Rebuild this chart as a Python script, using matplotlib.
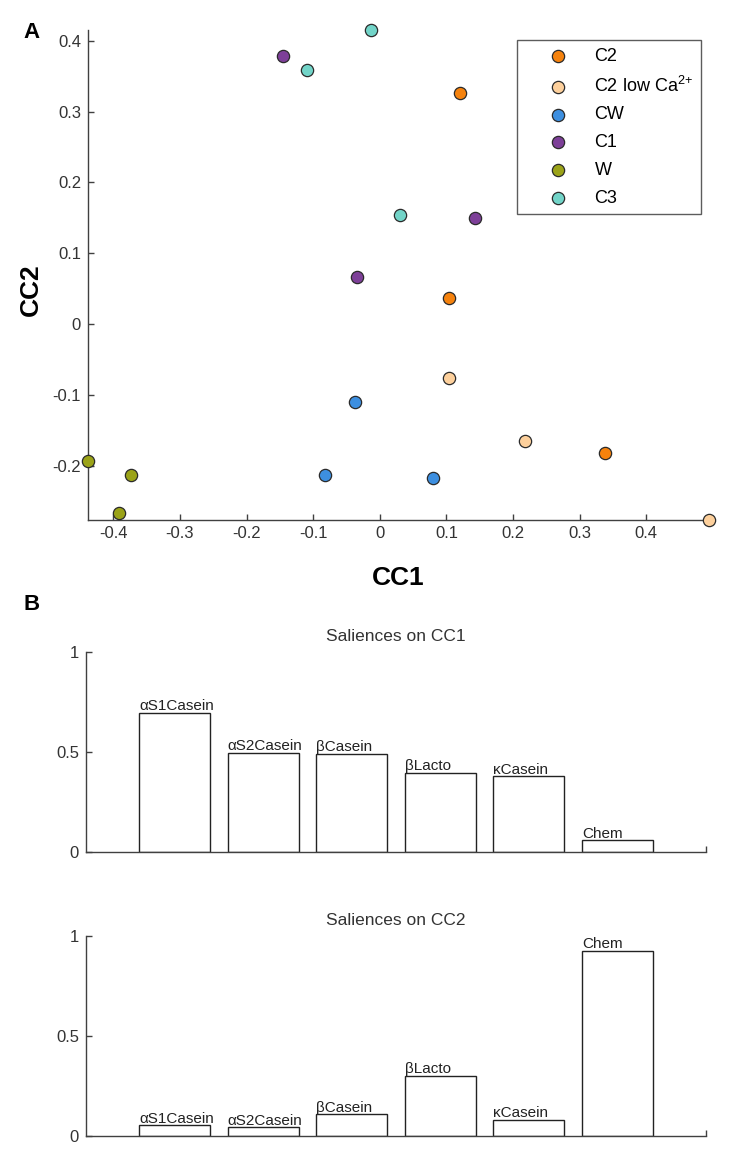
import numpy as np
import matplotlib
matplotlib.use('Agg')
import matplotlib.pyplot as plt
from matplotlib.ticker import FormatStrFormatter

plt.rcParams['font.family'] = ['Liberation Sans', 'DejaVu Sans']
plt.rcParams['mathtext.default'] = 'regular'

# CCA scores per group (three samples each)
groups = ['C2', 'C2 low Ca$^{2{+}}$', 'CW', 'C1', 'W', 'C3']
colors = ['#f5820d', '#fdd09c', '#3d8fe0', '#7d3f98', '#9ba318', '#72d4c8']
cc1 = [[0.121, 0.104, 0.338],
       [0.104, 0.2175, 0.494],
       [-0.037, -0.083, 0.0805],
       [-0.145, 0.143, -0.034],
       [-0.438, -0.374, -0.392],
       [-0.014, -0.109, 0.030]]
cc2 = [[0.326, 0.037, -0.181],
       [-0.076, -0.165, -0.276],
       [-0.110, -0.213, -0.217],
       [0.378, 0.150, 0.066],
       [-0.193, -0.213, -0.266],
       [0.415, 0.359, 0.154]]
xticks = [-0.4, -0.3, -0.2, -0.1, 0, 0.1, 0.2, 0.3, 0.4]
yticks = [-0.2, -0.1, 0, 0.1, 0.2, 0.3, 0.4]

# saliences of the variables
variables = ['αS1Casein', 'αS2Casein', 'βCasein', 'βLacto', 'κCasein', 'Chem']
sal_cc1 = [0.697, 0.497, 0.493, 0.398, 0.380, 0.062]
sal_cc2 = [0.055, 0.045, 0.108, 0.302, 0.081, 0.927]

axcol = '#404040'
W, H = 735, 1155
fig = plt.figure(figsize=(W / 100, H / 100), dpi=100)


def style(ax):
    for s in ['top', 'right']:
        ax.spines[s].set_visible(False)
    for s in ['left', 'bottom']:
        ax.spines[s].set_color(axcol)
        ax.spines[s].set_linewidth(1.0)
    ax.tick_params(direction='in', length=4.5, width=1.0, color=axcol,
                   labelcolor='#333333', labelsize=12)


# --- panel A: scatter
ax = fig.add_axes([88 / W, 1 - 520 / H, 621 / W, 490 / H])
for g, c, x, y in zip(groups, colors, cc1, cc2):
    ax.scatter(x, y, s=78, color=c, edgecolors='#2a2a2a', linewidths=0.9,
               label=g, zorder=3, clip_on=False)
ax.margins(0)
style(ax)
ax.set_xticks(xticks)
ax.set_yticks(yticks)
ax.xaxis.set_major_formatter(FormatStrFormatter('%g'))
ax.yaxis.set_major_formatter(FormatStrFormatter('%g'))
ax.tick_params(axis='x', pad=4)
ax.tick_params(axis='y', pad=5)
ax.set_xlabel('CC1', fontsize=19, fontweight='bold')
ax.set_ylabel('CC2', fontsize=19, fontweight='bold')
ax.xaxis.set_label_coords(0.5, -0.094)
ax.yaxis.set_label_coords(-0.072, 0.47)
leg = ax.legend(loc='upper right', bbox_to_anchor=(701 / W, 1 - 40 / H),
                bbox_transform=fig.transFigure, fontsize=13, frameon=True,
                fancybox=False, edgecolor='#333333', borderpad=0.42,
                labelspacing=0.6, handlelength=3.7, handletextpad=0.15,
                scatterpoints=1, borderaxespad=0)
leg.get_frame().set_linewidth(1.0)
fig.text(23 / W, 1 - 32 / H, 'A', fontsize=16, fontweight='bold', va='center')

# --- panel B: bar charts
x = np.arange(1, len(variables) + 1)
for vals, title, top in [(sal_cc1, 'Saliences on CC1', 652.3),
                         (sal_cc2, 'Saliences on CC2', 936)]:
    bx = fig.add_axes([86 / W, 1 - (top + 200) / H, 620 / W, 200 / H])
    bx.bar(x, vals, width=0.8, color='white', edgecolor='#222222', linewidth=1.0)
    for xi, v, name in zip(x, vals, variables):
        bx.text(xi - 0.4, v + 0.012, name, ha='left', va='baseline',
                fontsize=11, color='#222222')
    bx.set_xlim(0, 7)
    bx.set_ylim(0, 1)
    style(bx)
    bx.set_yticks([0, 0.5, 1])
    bx.yaxis.set_major_formatter(FormatStrFormatter('%g'))
    bx.set_xticks([7])
    bx.set_xticklabels([])
    bx.tick_params(axis='y', pad=5)
    bx.set_title(title, fontsize=12.5, color='#333333', pad=8)

fig.text(23 / W, 1 - 605 / H, 'B', fontsize=16, fontweight='bold', va='center')

fig.savefig('out.png', dpi=100)
